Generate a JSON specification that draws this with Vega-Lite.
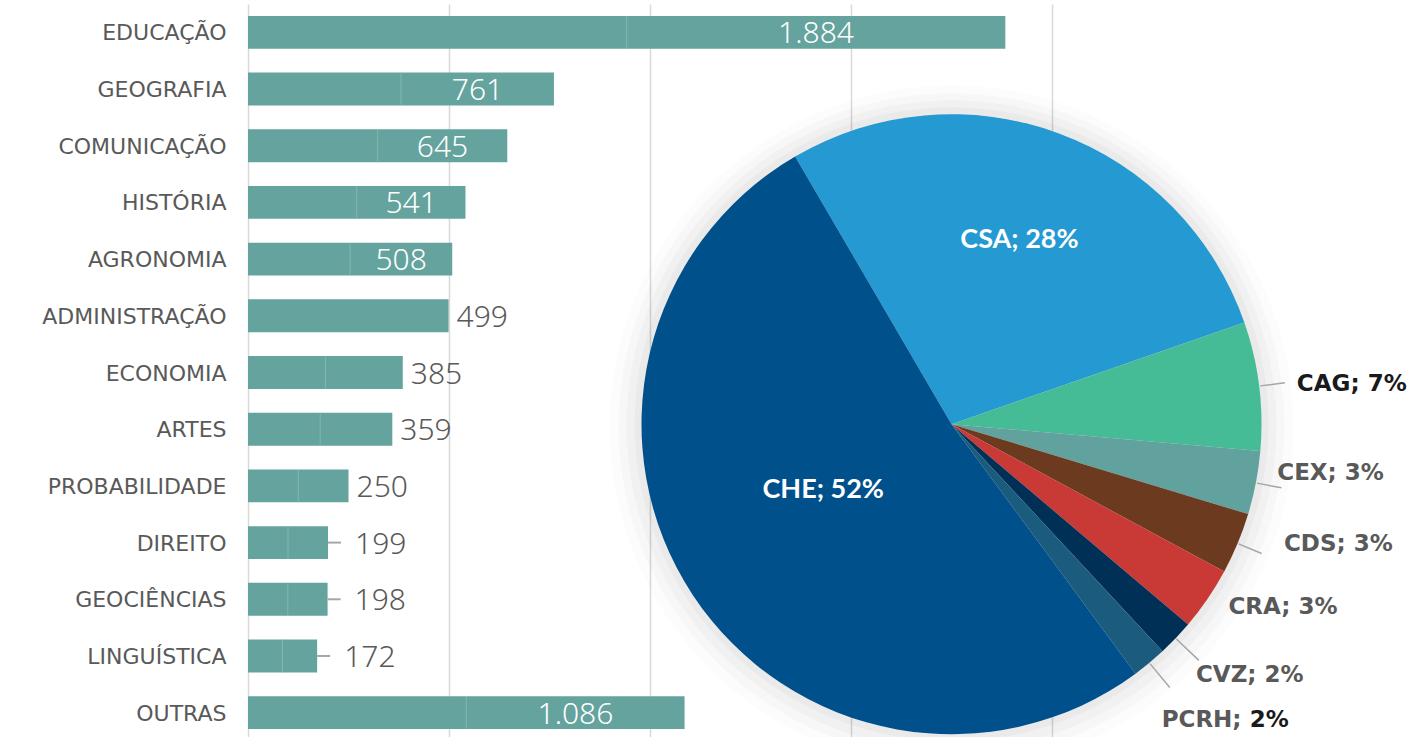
{
  "$schema": "https://vega.github.io/schema/vega-lite/v6.json",
  "width": 804,
  "height": 737,
  "autosize": {"type": "none"},
  "padding": {"left": 248, "top": 4, "right": 361, "bottom": 0},
  "background": "#ffffff",
  "config": {
    "view": {"stroke": null},
    "locale": {"number": {"decimal": ",", "thousands": ".", "grouping": [3], "currency": ["R$", ""]}}
  },
  "datasets": {
    "areas": [
      {"area": "EDUCAÇÃO", "valor": 1884},
      {"area": "GEOGRAFIA", "valor": 761},
      {"area": "COMUNICAÇÃO", "valor": 645},
      {"area": "HISTÓRIA", "valor": 541},
      {"area": "AGRONOMIA", "valor": 508},
      {"area": "ADMINISTRAÇÃO", "valor": 499},
      {"area": "ECONOMIA", "valor": 385},
      {"area": "ARTES", "valor": 359},
      {"area": "PROBABILIDADE", "valor": 250},
      {"area": "DIREITO", "valor": 199},
      {"area": "GEOCIÊNCIAS", "valor": 198},
      {"area": "LINGUÍSTICA", "valor": 172},
      {"area": "OUTRAS", "valor": 1086}
    ],
    "setores": [
      {"setor": "CSA", "pct": 28.1, "ordem": 1, "rotulo": "CSA; 28%"},
      {"setor": "CAG", "pct": 6.7, "ordem": 2, "rotulo": "CAG; 7%"},
      {"setor": "CEX", "pct": 3.3, "ordem": 3, "rotulo": "CEX; 3%"},
      {"setor": "CDS", "pct": 3.2, "ordem": 4, "rotulo": "CDS; 3%"},
      {"setor": "CRA", "pct": 3.3, "ordem": 5, "rotulo": "CRA; 3%"},
      {"setor": "CVZ", "pct": 1.9, "ordem": 6, "rotulo": "CVZ; 2%"},
      {"setor": "PCRH", "pct": 1.8, "ordem": 7, "rotulo": "PCRH; 2%"},
      {"setor": "CHE", "pct": 51.7, "ordem": 8, "rotulo": "CHE; 52%"}
    ]
  },
  "layer": [
    {
      "data": {"name": "areas"},
      "mark": {"type": "bar", "color": "#64a39e"},
      "encoding": {
        "x": {"field": "valor", "type": "quantitative", "title": null,
          "scale": {"domain": [0, 2000], "nice": false},
          "axis": {"values": [0, 500, 1000, 1500, 2000], "grid": true, "gridColor": "#d9d9d9", "gridWidth": 1.5, "labels": false, "ticks": false, "domain": false, "title": null}},
        "y": {"field": "area", "type": "nominal", "title": null,
          "scale": {"domain": ["EDUCAÇÃO","GEOGRAFIA","COMUNICAÇÃO","HISTÓRIA","AGRONOMIA","ADMINISTRAÇÃO","ECONOMIA","ARTES","PROBABILIDADE","DIREITO","GEOCIÊNCIAS","LINGUÍSTICA","OUTRAS"], "paddingInner": 0.42, "paddingOuter": 0.21},
          "axis": {"ticks": false, "domain": false, "labelFont": "DejaVu Sans", "labelFontSize": 22, "labelColor": "#595959", "labelPadding": 22, "labelOffset": 1, "labelLimit": 400}}
      }
    },
    {
      "data": {"name": "areas"},
      "transform": [{"filter": "datum.area != 'ADMINISTRAÇÃO'"}],
      "mark": {"type": "tick", "color": "#8fc0bc", "thickness": 1, "size": 33},
      "encoding": {
        "x": {"field": "valor", "type": "quantitative", "scale": {"domain": [0, 4000], "nice": false}, "axis": null},
        "y": {"field": "area", "type": "nominal", "title": null,
          "scale": {"domain": ["EDUCAÇÃO","GEOGRAFIA","COMUNICAÇÃO","HISTÓRIA","AGRONOMIA","ADMINISTRAÇÃO","ECONOMIA","ARTES","PROBABILIDADE","DIREITO","GEOCIÊNCIAS","LINGUÍSTICA","OUTRAS"], "paddingInner": 0.42, "paddingOuter": 0.21}}
      }
    },
    {
      "data": {"name": "areas"},
      "transform": [{"filter": "datum.valor >= 500"}],
      "mark": {"type": "text", "align": "center", "baseline": "middle", "font": "Noto Sans", "fontWeight": 300, "fontSize": 30, "color": "#ffffff", "dy": 2},
      "encoding": {
        "x": {"field": "valor", "type": "quantitative", "scale": {"domain": [0, 2666.6667], "nice": false}, "axis": null},
        "y": {"field": "area", "type": "nominal", "title": null,
          "scale": {"domain": ["EDUCAÇÃO","GEOGRAFIA","COMUNICAÇÃO","HISTÓRIA","AGRONOMIA","ADMINISTRAÇÃO","ECONOMIA","ARTES","PROBABILIDADE","DIREITO","GEOCIÊNCIAS","LINGUÍSTICA","OUTRAS"], "paddingInner": 0.42, "paddingOuter": 0.21}},
        "text": {"field": "valor", "type": "quantitative", "format": ",d"}
      }
    },
    {
      "data": {"name": "areas"},
      "transform": [{"filter": "datum.valor < 500 && datum.valor >= 240"}],
      "mark": {"type": "text", "align": "left", "baseline": "middle", "font": "Noto Sans", "fontWeight": 300, "fontSize": 30, "color": "#595959", "dx": 8, "dy": 2},
      "encoding": {
        "x": {"field": "valor", "type": "quantitative", "scale": {"domain": [0, 2000], "nice": false}, "axis": null},
        "y": {"field": "area", "type": "nominal", "title": null,
          "scale": {"domain": ["EDUCAÇÃO","GEOGRAFIA","COMUNICAÇÃO","HISTÓRIA","AGRONOMIA","ADMINISTRAÇÃO","ECONOMIA","ARTES","PROBABILIDADE","DIREITO","GEOCIÊNCIAS","LINGUÍSTICA","OUTRAS"], "paddingInner": 0.42, "paddingOuter": 0.21}},
        "text": {"field": "valor", "type": "quantitative", "format": ",d"}
      }
    },
    {
      "data": {"name": "areas"},
      "transform": [{"filter": "datum.valor < 240"}],
      "mark": {"type": "text", "align": "left", "baseline": "middle", "font": "Noto Sans", "fontWeight": 300, "fontSize": 30, "color": "#595959", "dx": 27, "dy": 2},
      "encoding": {
        "x": {"field": "valor", "type": "quantitative", "scale": {"domain": [0, 2000], "nice": false}, "axis": null},
        "y": {"field": "area", "type": "nominal", "title": null,
          "scale": {"domain": ["EDUCAÇÃO","GEOGRAFIA","COMUNICAÇÃO","HISTÓRIA","AGRONOMIA","ADMINISTRAÇÃO","ECONOMIA","ARTES","PROBABILIDADE","DIREITO","GEOCIÊNCIAS","LINGUÍSTICA","OUTRAS"], "paddingInner": 0.42, "paddingOuter": 0.21}},
        "text": {"field": "valor", "type": "quantitative", "format": ",d"}
      }
    },
    {
      "data": {"name": "areas"},
      "transform": [{"filter": "datum.valor < 240"}],
      "mark": {"type": "rule", "color": "#a6a6a6", "strokeWidth": 2, "x2Offset": 13},
      "encoding": {
        "x": {"field": "valor", "type": "quantitative", "scale": {"domain": [0, 2000], "nice": false}, "axis": null},
        "x2": {"field": "valor"},
        "y": {"field": "area", "type": "nominal", "title": null,
          "scale": {"domain": ["EDUCAÇÃO","GEOGRAFIA","COMUNICAÇÃO","HISTÓRIA","AGRONOMIA","ADMINISTRAÇÃO","ECONOMIA","ARTES","PROBABILIDADE","DIREITO","GEOCIÊNCIAS","LINGUÍSTICA","OUTRAS"], "paddingInner": 0.42, "paddingOuter": 0.21}}
      }
    },
    {
      "data": {"name": "setores"},
      "mark": {"type": "arc", "outerRadius": 342, "fill": "#000000", "fillOpacity": 0.012, "yOffset": -2},
      "encoding": {
        "x": {"datum": 1750, "type": "quantitative", "scale": {"domain": [0, 2000], "nice": false}, "axis": null},
        "y": {"datum": "ARTES", "type": "nominal", "title": null,
          "scale": {"domain": ["EDUCAÇÃO","GEOGRAFIA","COMUNICAÇÃO","HISTÓRIA","AGRONOMIA","ADMINISTRAÇÃO","ECONOMIA","ARTES","PROBABILIDADE","DIREITO","GEOCIÊNCIAS","LINGUÍSTICA","OUTRAS"], "paddingInner": 0.42, "paddingOuter": 0.21}},
        "theta": {"field": "pct", "type": "quantitative", "stack": true, "scale": {"domain": [0, 100], "nice": false, "zero": true, "range": [5.7544, 12.0376]}},
        "order": {"field": "ordem", "type": "quantitative"}
      }
    },
    {
      "data": {"name": "setores"},
      "mark": {"type": "arc", "outerRadius": 333, "fill": "#000000", "fillOpacity": 0.018, "yOffset": -3},
      "encoding": {
        "x": {"datum": 1750, "type": "quantitative", "scale": {"domain": [0, 2000], "nice": false}, "axis": null},
        "y": {"datum": "ARTES", "type": "nominal", "title": null,
          "scale": {"domain": ["EDUCAÇÃO","GEOGRAFIA","COMUNICAÇÃO","HISTÓRIA","AGRONOMIA","ADMINISTRAÇÃO","ECONOMIA","ARTES","PROBABILIDADE","DIREITO","GEOCIÊNCIAS","LINGUÍSTICA","OUTRAS"], "paddingInner": 0.42, "paddingOuter": 0.21}},
        "theta": {"field": "pct", "type": "quantitative", "stack": true, "scale": {"domain": [0, 100], "nice": false, "zero": true, "range": [5.7544, 12.0376]}},
        "order": {"field": "ordem", "type": "quantitative"}
      }
    },
    {
      "data": {"name": "setores"},
      "mark": {"type": "arc", "outerRadius": 325, "fill": "#000000", "fillOpacity": 0.022, "yOffset": -4},
      "encoding": {
        "x": {"datum": 1750, "type": "quantitative", "scale": {"domain": [0, 2000], "nice": false}, "axis": null},
        "y": {"datum": "ARTES", "type": "nominal", "title": null,
          "scale": {"domain": ["EDUCAÇÃO","GEOGRAFIA","COMUNICAÇÃO","HISTÓRIA","AGRONOMIA","ADMINISTRAÇÃO","ECONOMIA","ARTES","PROBABILIDADE","DIREITO","GEOCIÊNCIAS","LINGUÍSTICA","OUTRAS"], "paddingInner": 0.42, "paddingOuter": 0.21}},
        "theta": {"field": "pct", "type": "quantitative", "stack": true, "scale": {"domain": [0, 100], "nice": false, "zero": true, "range": [5.7544, 12.0376]}},
        "order": {"field": "ordem", "type": "quantitative"}
      }
    },
    {
      "data": {"name": "setores"},
      "mark": {"type": "arc", "outerRadius": 317, "fill": "#000000", "fillOpacity": 0.028, "yOffset": -5},
      "encoding": {
        "x": {"datum": 1750, "type": "quantitative", "scale": {"domain": [0, 2000], "nice": false}, "axis": null},
        "y": {"datum": "ARTES", "type": "nominal", "title": null,
          "scale": {"domain": ["EDUCAÇÃO","GEOGRAFIA","COMUNICAÇÃO","HISTÓRIA","AGRONOMIA","ADMINISTRAÇÃO","ECONOMIA","ARTES","PROBABILIDADE","DIREITO","GEOCIÊNCIAS","LINGUÍSTICA","OUTRAS"], "paddingInner": 0.42, "paddingOuter": 0.21}},
        "theta": {"field": "pct", "type": "quantitative", "stack": true, "scale": {"domain": [0, 100], "nice": false, "zero": true, "range": [5.7544, 12.0376]}},
        "order": {"field": "ordem", "type": "quantitative"}
      }
    },
    {
      "data": {"name": "setores"},
      "mark": {"type": "arc", "outerRadius": 310, "yOffset": -5},
      "encoding": {
        "x": {"datum": 1750, "type": "quantitative", "scale": {"domain": [0, 2000], "nice": false}, "axis": null},
        "y": {"datum": "ARTES", "type": "nominal", "title": null,
          "scale": {"domain": ["EDUCAÇÃO","GEOGRAFIA","COMUNICAÇÃO","HISTÓRIA","AGRONOMIA","ADMINISTRAÇÃO","ECONOMIA","ARTES","PROBABILIDADE","DIREITO","GEOCIÊNCIAS","LINGUÍSTICA","OUTRAS"], "paddingInner": 0.42, "paddingOuter": 0.21}},
        "theta": {"field": "pct", "type": "quantitative", "stack": true, "scale": {"domain": [0, 100], "nice": false, "zero": true, "range": [5.7544, 12.0376]}},
        "order": {"field": "ordem", "type": "quantitative"},
        "color": {"field": "setor", "type": "nominal", "legend": null,
          "scale": {"domain": ["CSA", "CAG", "CEX", "CDS", "CRA", "CVZ", "PCRH", "CHE"],
                    "range": ["#2499d2", "#45bb96", "#62a29e", "#6c3a1e", "#c93a37", "#003055", "#1b5b7d", "#00508c"]}}
      }
    },
    {
      "data": {"name": "setores"},
      "mark": {"type": "arc", "outerRadius": 336, "innerRadius": 311, "padAngle": 3, "filled": false, "color": "#a6a6a6", "strokeWidth": 1.5, "yOffset": -5},
      "encoding": {
        "x": {"datum": 1750, "type": "quantitative", "scale": {"domain": [0, 2000], "nice": false}, "axis": null},
        "y": {"datum": "ARTES", "type": "nominal", "title": null,
          "scale": {"domain": ["EDUCAÇÃO","GEOGRAFIA","COMUNICAÇÃO","HISTÓRIA","AGRONOMIA","ADMINISTRAÇÃO","ECONOMIA","ARTES","PROBABILIDADE","DIREITO","GEOCIÊNCIAS","LINGUÍSTICA","OUTRAS"], "paddingInner": 0.42, "paddingOuter": 0.21}},
        "theta": {"field": "pct", "type": "quantitative", "stack": true, "scale": {"domain": [0, 100], "nice": false, "zero": true, "range": [5.7544, 12.0376]}},
        "order": {"field": "ordem", "type": "quantitative"},
        "strokeOpacity": {"condition": {"test": "datum.setor == 'CAG' || datum.setor == 'CEX' || datum.setor == 'CDS'", "value": 1}, "value": 0}
      }
    },
    {
      "data": {"name": "setores"},
      "mark": {"type": "arc", "outerRadius": 342, "innerRadius": 311, "padAngle": 3, "filled": false, "color": "#a6a6a6", "strokeWidth": 1.5, "yOffset": -5},
      "encoding": {
        "x": {"datum": 1750, "type": "quantitative", "scale": {"domain": [0, 2000], "nice": false}, "axis": null},
        "y": {"datum": "ARTES", "type": "nominal", "title": null,
          "scale": {"domain": ["EDUCAÇÃO","GEOGRAFIA","COMUNICAÇÃO","HISTÓRIA","AGRONOMIA","ADMINISTRAÇÃO","ECONOMIA","ARTES","PROBABILIDADE","DIREITO","GEOCIÊNCIAS","LINGUÍSTICA","OUTRAS"], "paddingInner": 0.42, "paddingOuter": 0.21}},
        "theta": {"field": "pct", "type": "quantitative", "stack": true, "scale": {"domain": [0, 100], "nice": false, "zero": true, "range": [5.7544, 12.0376]}},
        "order": {"field": "ordem", "type": "quantitative"},
        "strokeOpacity": {"condition": {"test": "datum.setor == 'CVZ' || datum.setor == 'PCRH'", "value": 1}, "value": 0}
      }
    },
    {
      "data": {"name": "setores"},
      "mark": {"type": "text", "radius": 196, "align": "center", "baseline": "middle", "font": "Lato", "fontWeight": "bold", "fontSize": 27, "color": "#ffffff", "yOffset": -5},
      "encoding": {
        "x": {"datum": 1750, "type": "quantitative", "scale": {"domain": [0, 2000], "nice": false}, "axis": null},
        "y": {"datum": "ARTES", "type": "nominal", "title": null,
          "scale": {"domain": ["EDUCAÇÃO","GEOGRAFIA","COMUNICAÇÃO","HISTÓRIA","AGRONOMIA","ADMINISTRAÇÃO","ECONOMIA","ARTES","PROBABILIDADE","DIREITO","GEOCIÊNCIAS","LINGUÍSTICA","OUTRAS"], "paddingInner": 0.42, "paddingOuter": 0.21}},
        "theta": {"field": "pct", "type": "quantitative", "stack": true, "scale": {"domain": [0, 100], "nice": false, "zero": true, "range": [5.7544, 12.0376]}},
        "order": {"field": "ordem", "type": "quantitative"},
        "text": {"condition": {"test": "datum.setor == 'CSA'", "field": "rotulo"}, "value": ""}
      }
    },
    {
      "data": {"name": "setores"},
      "mark": {"type": "text", "radius": 144, "align": "center", "baseline": "middle", "font": "Lato", "fontWeight": "bold", "fontSize": 27, "color": "#ffffff", "yOffset": -5, "dx": -8, "dy": -13},
      "encoding": {
        "x": {"datum": 1750, "type": "quantitative", "scale": {"domain": [0, 2000], "nice": false}, "axis": null},
        "y": {"datum": "ARTES", "type": "nominal", "title": null,
          "scale": {"domain": ["EDUCAÇÃO","GEOGRAFIA","COMUNICAÇÃO","HISTÓRIA","AGRONOMIA","ADMINISTRAÇÃO","ECONOMIA","ARTES","PROBABILIDADE","DIREITO","GEOCIÊNCIAS","LINGUÍSTICA","OUTRAS"], "paddingInner": 0.42, "paddingOuter": 0.21}},
        "theta": {"field": "pct", "type": "quantitative", "stack": true, "scale": {"domain": [0, 100], "nice": false, "zero": true, "range": [5.7544, 12.0376]}},
        "order": {"field": "ordem", "type": "quantitative"},
        "text": {"condition": {"test": "datum.setor == 'CHE'", "field": "rotulo"}, "value": ""}
      }
    },
    {
      "data": {"name": "setores"},
      "mark": {"type": "text", "radius": 345, "align": "left", "baseline": "middle", "font": "DejaVu Sans", "fontWeight": "bold", "fontSize": 23, "color": "#1a1a1a", "yOffset": -5, "dx": 3, "dy": 2},
      "encoding": {
        "x": {"datum": 1750, "type": "quantitative", "scale": {"domain": [0, 2000], "nice": false}, "axis": null},
        "y": {"datum": "ARTES", "type": "nominal", "title": null,
          "scale": {"domain": ["EDUCAÇÃO","GEOGRAFIA","COMUNICAÇÃO","HISTÓRIA","AGRONOMIA","ADMINISTRAÇÃO","ECONOMIA","ARTES","PROBABILIDADE","DIREITO","GEOCIÊNCIAS","LINGUÍSTICA","OUTRAS"], "paddingInner": 0.42, "paddingOuter": 0.21}},
        "theta": {"field": "pct", "type": "quantitative", "stack": true, "scale": {"domain": [0, 100], "nice": false, "zero": true, "range": [5.7544, 12.0376]}},
        "order": {"field": "ordem", "type": "quantitative"},
        "text": {"condition": {"test": "datum.setor == 'CAG'", "field": "rotulo"}, "value": ""}
      }
    },
    {
      "data": {"name": "setores"},
      "mark": {"type": "text", "radius": 345, "align": "left", "baseline": "middle", "font": "DejaVu Sans", "fontWeight": "bold", "fontSize": 23, "color": "#595959", "yOffset": -5, "dx": -13, "dy": -17},
      "encoding": {
        "x": {"datum": 1750, "type": "quantitative", "scale": {"domain": [0, 2000], "nice": false}, "axis": null},
        "y": {"datum": "ARTES", "type": "nominal", "title": null,
          "scale": {"domain": ["EDUCAÇÃO","GEOGRAFIA","COMUNICAÇÃO","HISTÓRIA","AGRONOMIA","ADMINISTRAÇÃO","ECONOMIA","ARTES","PROBABILIDADE","DIREITO","GEOCIÊNCIAS","LINGUÍSTICA","OUTRAS"], "paddingInner": 0.42, "paddingOuter": 0.21}},
        "theta": {"field": "pct", "type": "quantitative", "stack": true, "scale": {"domain": [0, 100], "nice": false, "zero": true, "range": [5.7544, 12.0376]}},
        "order": {"field": "ordem", "type": "quantitative"},
        "text": {"condition": {"test": "datum.setor == 'CEX'", "field": "rotulo"}, "value": ""}
      }
    },
    {
      "data": {"name": "setores"},
      "mark": {"type": "text", "radius": 345, "align": "left", "baseline": "middle", "font": "DejaVu Sans", "fontWeight": "bold", "fontSize": 23, "color": "#595959", "yOffset": -5, "dx": 14, "dy": -13},
      "encoding": {
        "x": {"datum": 1750, "type": "quantitative", "scale": {"domain": [0, 2000], "nice": false}, "axis": null},
        "y": {"datum": "ARTES", "type": "nominal", "title": null,
          "scale": {"domain": ["EDUCAÇÃO","GEOGRAFIA","COMUNICAÇÃO","HISTÓRIA","AGRONOMIA","ADMINISTRAÇÃO","ECONOMIA","ARTES","PROBABILIDADE","DIREITO","GEOCIÊNCIAS","LINGUÍSTICA","OUTRAS"], "paddingInner": 0.42, "paddingOuter": 0.21}},
        "theta": {"field": "pct", "type": "quantitative", "stack": true, "scale": {"domain": [0, 100], "nice": false, "zero": true, "range": [5.7544, 12.0376]}},
        "order": {"field": "ordem", "type": "quantitative"},
        "text": {"condition": {"test": "datum.setor == 'CDS'", "field": "rotulo"}, "value": ""}
      }
    },
    {
      "data": {"name": "setores"},
      "mark": {"type": "text", "radius": 345, "align": "left", "baseline": "middle", "font": "DejaVu Sans", "fontWeight": "bold", "fontSize": 23, "color": "#595959", "yOffset": -5, "dx": -8, "dy": -12},
      "encoding": {
        "x": {"datum": 1750, "type": "quantitative", "scale": {"domain": [0, 2000], "nice": false}, "axis": null},
        "y": {"datum": "ARTES", "type": "nominal", "title": null,
          "scale": {"domain": ["EDUCAÇÃO","GEOGRAFIA","COMUNICAÇÃO","HISTÓRIA","AGRONOMIA","ADMINISTRAÇÃO","ECONOMIA","ARTES","PROBABILIDADE","DIREITO","GEOCIÊNCIAS","LINGUÍSTICA","OUTRAS"], "paddingInner": 0.42, "paddingOuter": 0.21}},
        "theta": {"field": "pct", "type": "quantitative", "stack": true, "scale": {"domain": [0, 100], "nice": false, "zero": true, "range": [5.7544, 12.0376]}},
        "order": {"field": "ordem", "type": "quantitative"},
        "text": {"condition": {"test": "datum.setor == 'CRA'", "field": "rotulo"}, "value": ""}
      }
    },
    {
      "data": {"name": "setores"},
      "mark": {"type": "text", "radius": 345, "align": "left", "baseline": "middle", "font": "DejaVu Sans", "fontWeight": "bold", "fontSize": 23, "color": "#595959", "yOffset": -5, "dx": -5, "dy": 13},
      "encoding": {
        "x": {"datum": 1750, "type": "quantitative", "scale": {"domain": [0, 2000], "nice": false}, "axis": null},
        "y": {"datum": "ARTES", "type": "nominal", "title": null,
          "scale": {"domain": ["EDUCAÇÃO","GEOGRAFIA","COMUNICAÇÃO","HISTÓRIA","AGRONOMIA","ADMINISTRAÇÃO","ECONOMIA","ARTES","PROBABILIDADE","DIREITO","GEOCIÊNCIAS","LINGUÍSTICA","OUTRAS"], "paddingInner": 0.42, "paddingOuter": 0.21}},
        "theta": {"field": "pct", "type": "quantitative", "stack": true, "scale": {"domain": [0, 100], "nice": false, "zero": true, "range": [5.7544, 12.0376]}},
        "order": {"field": "ordem", "type": "quantitative"},
        "text": {"condition": {"test": "datum.setor == 'CVZ'", "field": "rotulo"}, "value": ""}
      }
    },
    {
      "data": {"name": "setores"},
      "mark": {"type": "text", "radius": 345, "align": "left", "baseline": "middle", "font": "DejaVu Sans", "fontWeight": "bold", "fontSize": 23, "color": "#595959", "yOffset": -5, "dx": -10, "dy": 30},
      "encoding": {
        "x": {"datum": 1750, "type": "quantitative", "scale": {"domain": [0, 2000], "nice": false}, "axis": null},
        "y": {"datum": "ARTES", "type": "nominal", "title": null,
          "scale": {"domain": ["EDUCAÇÃO","GEOGRAFIA","COMUNICAÇÃO","HISTÓRIA","AGRONOMIA","ADMINISTRAÇÃO","ECONOMIA","ARTES","PROBABILIDADE","DIREITO","GEOCIÊNCIAS","LINGUÍSTICA","OUTRAS"], "paddingInner": 0.42, "paddingOuter": 0.21}},
        "theta": {"field": "pct", "type": "quantitative", "stack": true, "scale": {"domain": [0, 100], "nice": false, "zero": true, "range": [5.7544, 12.0376]}},
        "order": {"field": "ordem", "type": "quantitative"},
        "text": {"condition": {"test": "datum.setor == 'PCRH'", "value": "PCRH;"}, "value": ""}
      }
    },
    {
      "data": {"name": "setores"},
      "mark": {"type": "text", "radius": 345, "align": "left", "baseline": "middle", "font": "DejaVu Sans", "fontWeight": "bold", "fontSize": 23, "color": "#1a1a1a", "yOffset": -5, "dx": 78, "dy": 30},
      "encoding": {
        "x": {"datum": 1750, "type": "quantitative", "scale": {"domain": [0, 2000], "nice": false}, "axis": null},
        "y": {"datum": "ARTES", "type": "nominal", "title": null,
          "scale": {"domain": ["EDUCAÇÃO","GEOGRAFIA","COMUNICAÇÃO","HISTÓRIA","AGRONOMIA","ADMINISTRAÇÃO","ECONOMIA","ARTES","PROBABILIDADE","DIREITO","GEOCIÊNCIAS","LINGUÍSTICA","OUTRAS"], "paddingInner": 0.42, "paddingOuter": 0.21}},
        "theta": {"field": "pct", "type": "quantitative", "stack": true, "scale": {"domain": [0, 100], "nice": false, "zero": true, "range": [5.7544, 12.0376]}},
        "order": {"field": "ordem", "type": "quantitative"},
        "text": {"condition": {"test": "datum.setor == 'PCRH'", "value": "2%"}, "value": ""}
      }
    }
  ],
  "resolve": {"scale": {"x": "independent"}}
}
